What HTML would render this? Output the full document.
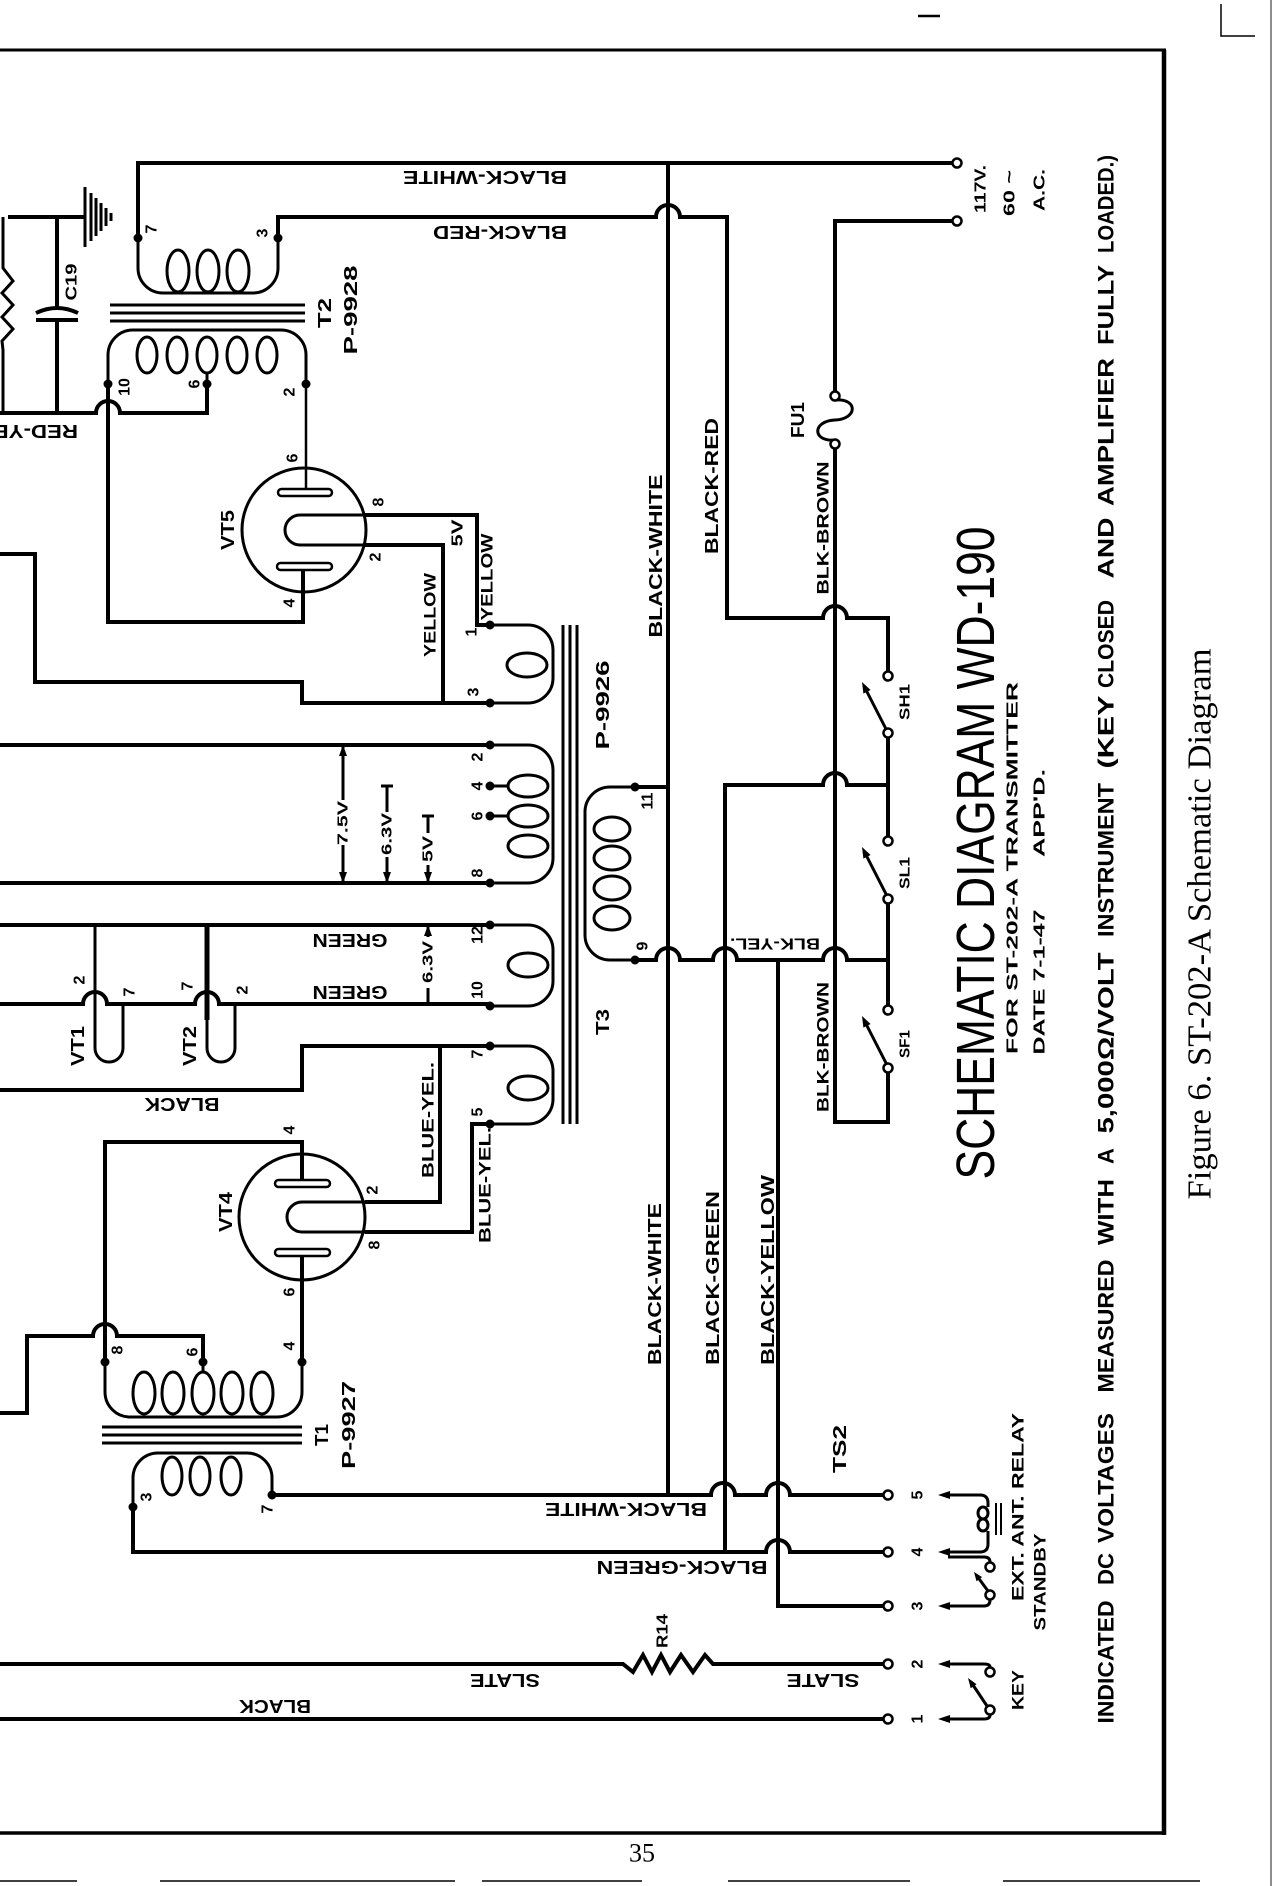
<!DOCTYPE html>
<html><head><meta charset="utf-8"><style>
html,body{margin:0;padding:0;background:#fff;}
svg{display:block}
text{font-family:"Liberation Sans",sans-serif;font-weight:bold;text-anchor:middle;dominant-baseline:central;fill:#000}
.w{fill:none;stroke:#000;stroke-width:4}
.t{fill:none;stroke:#000;stroke-width:3}
.o{fill:#fff;stroke:#000;stroke-width:2.5}
</style></head><body>
<svg width="1273" height="1886" viewBox="0 0 1273 1886" xmlns="http://www.w3.org/2000/svg">
<!-- frame -->
<path d="M0,50 H1166" stroke="#000" stroke-width="3" fill="none"/>
<path d="M1164,50 V1835" stroke="#000" stroke-width="4.5" fill="none"/>
<path d="M0,1833 H1166" stroke="#000" stroke-width="3.5" fill="none"/>
<path d="M1271,0 V1886" stroke="#444" stroke-width="1.2" fill="none"/>
<path d="M1221,4 V36 H1255" stroke="#000" stroke-width="1.5" fill="none"/>
<path d="M918,16 H940" stroke="#000" stroke-width="2.5" fill="none"/>
<path d="M0,1881 H77 M160,1881 H455 M482,1881 H642 M728,1881 H910 M1003,1881 H1200" stroke="#000" stroke-width="1.5" fill="none"/>

<!-- wires -->
<path class="w" d="M138,238 V163 H952"/>
<path class="w" d="M278,238 V217 H656 A12,12 0 0 1 680,217 H727 V618 H823 A12,12 0 0 1 847,618 H888 V671.5"/>
<path class="w" d="M668,163 V1495"/>
<path class="w" d="M635,787 H668"/>
<path class="w" d="M635,960 H656 A12,12 0 0 1 680,960 H713 A12,12 0 0 1 737,960 H823 A12,12 0 0 1 847,960 H888"/>
<path class="w" d="M888,903.5 V1005.5"/>
<path class="w" d="M725,1552 V785 H823 A12,12 0 0 1 847,785 H888"/>
<path class="w" d="M888,737.5 V836.5"/>
<path class="w" d="M952,221 H835 V391.5"/>
<path class="w" d="M835,448.5 V1122 H888 V1072.5"/>
<path class="t" d="M835,400 C858,398 858,419 835,420 C812,421 812,442 835,440"/>
<!-- ground -->
<path class="w" d="M8,217 H85"/>
<path d="M85,187 V247 M91,193 V241 M96,198 V236 M101,203 V231 M106,208 V226 M111,213 V221" stroke="#000" stroke-width="3" fill="none"/>
<!-- resistor left -->
<path d="M3,217 V268 L13,281 L2,293 L13,305 L2,317 L13,329 L2,341 L3,350 V413" stroke="#000" stroke-width="3" fill="none"/>
<!-- C19 -->
<path class="w" d="M57,217 V309 M57,320 V413"/>
<path class="w" d="M36,313 Q57,303 78,313 M36,320 H78"/>
<path class="w" d="M0,413 H96 A12,12 0 0 1 120,413 H207 V384"/>
<path class="w" d="M108,384 V622 H303 V570"/>
<path d="M306,384 V489" stroke="#000" stroke-width="2.5" fill="none"/>
<path class="w" d="M365,515 H477 V625 H490"/>
<path class="w" d="M365,545 H443 V703"/>
<path class="w" d="M0,554 H35 V682 H302 V703 H490"/>
<path class="w" d="M0,745 H490 M0,883 H490 M0,925 H490"/>
<path class="w" d="M0,1004 H83 A12,12 0 0 1 107,1004 H195 A12,12 0 0 1 219,1004 H490"/>
<path class="w" d="M0,1090 H302 V1046 H490"/>
<path class="w" d="M105,1362 V1142 H302 V1180"/>
<path class="w" d="M365,1202 H440 V1046"/>
<path class="w" d="M365,1232 H472 V1124 H490"/>
<path class="w" d="M302,1256 V1362"/>
<path class="w" d="M203,1362 V1336 H117 A12,12 0 0 0 93,1336 H27 V1413 H0"/>
<path class="w" d="M272,1495 H711 A12,12 0 0 1 735,1495 H766 A12,12 0 0 1 790,1495 H883.5"/>
<path class="w" d="M133,1507 V1552 H766 A12,12 0 0 1 790,1552 H883.5"/>
<path class="w" d="M778,960 V1606 H883.5"/>
<path class="w" d="M0,1664 H623 L633,1672 L643,1655 L652,1672 L661,1655 L670,1672 L681,1655 L693,1672 L705,1655 L713,1664 H883.5"/>
<path class="w" d="M0,1719 H883.5"/>
<!-- VT1 / VT2 -->
<path class="t" d="M95,925 V1048 A14,14 0 0 0 123,1048 V1004"/>
<path class="t" d="M207,925 V1048 A14,14 0 0 0 235,1048 V1004"/>
<path d="M207,925 V1020" stroke="#000" stroke-width="5" fill="none"/>

<!-- voltage dimension marks -->
<path class="t" d="M343,745 V800 M343,845 V883"/>
<polygon points="343,745 339,756 347,756"/><polygon points="343,883 339,872 347,872"/>
<path class="t" d="M387,786 V812 M387,857 V883 M381,786 H393"/>
<polygon points="387,883 383,872 391,872"/>
<path class="t" d="M428,816 V833 M428,865 V883 M422,816 H434"/>
<polygon points="428,883 424,872 432,872"/>
<path class="t" d="M428,925 V937 M428,988 V1004 M422,1004 H434"/>
<polygon points="428,925 424,936 432,936"/>

<!-- T2 -->
<path class="t" d="M138,238 V268 A25,25 0 0 0 163,293 H253 A25,25 0 0 0 278,268 V238"/>
<ellipse class="t" cx="178" cy="271" rx="11" ry="21"/>
<ellipse class="t" cx="208" cy="271" rx="11" ry="21"/>
<ellipse class="t" cx="238" cy="271" rx="11" ry="21"/>
<path d="M110,305 H305 M110,313 H305 M110,321 H305" stroke="#000" stroke-width="3" fill="none"/>
<path class="t" d="M108,384 V355 A25,25 0 0 1 133,330 H281 A25,25 0 0 1 306,355 V384 M207,373 V384"/>
<ellipse class="t" cx="147" cy="355" rx="10" ry="18"/>
<ellipse class="t" cx="177" cy="355" rx="10" ry="18"/>
<ellipse class="t" cx="207" cy="355" rx="10" ry="18"/>
<ellipse class="t" cx="237" cy="355" rx="10" ry="18"/>
<ellipse class="t" cx="267" cy="355" rx="10" ry="18"/>

<!-- VT5 -->
<circle class="t" cx="304" cy="530" r="62" fill="none"/>
<rect x="278" y="489" width="54" height="7" rx="3.5" fill="#fff" stroke="#000" stroke-width="2.5"/>
<rect x="277" y="563" width="55" height="7" rx="3.5" fill="#fff" stroke="#000" stroke-width="2.5"/>
<path class="t" d="M365,515 H300 A15,15 0 0 0 300,545 H365"/>

<!-- T3 -->
<path class="t" d="M490,625 H528 A25,25 0 0 1 553,650 V678 A25,25 0 0 1 528,703 H490"/>
<ellipse class="t" cx="527" cy="665" rx="20" ry="12"/>
<path class="t" d="M490,745 H528 A25,25 0 0 1 553,770 V858 A25,25 0 0 1 528,883 H490 M490,786 H508 M490,816 H508"/>
<ellipse class="t" cx="528" cy="786" rx="20" ry="11"/>
<ellipse class="t" cx="528" cy="816" rx="20" ry="11"/>
<ellipse class="t" cx="528" cy="846" rx="20" ry="11"/>
<path class="t" d="M490,925 H528 A25,25 0 0 1 553,950 V981 A25,25 0 0 1 528,1006 H490"/>
<ellipse class="t" cx="528" cy="965" rx="20" ry="12"/>
<path class="t" d="M490,1046 H528 A25,25 0 0 1 553,1071 V1099 A25,25 0 0 1 528,1124 H490"/>
<ellipse class="t" cx="528" cy="1088" rx="20" ry="12"/>
<path d="M563,625 V1124 M570,625 V1124 M577,625 V1124" stroke="#000" stroke-width="3" fill="none"/>
<path class="t" d="M635,787 H610 A25,25 0 0 0 585,812 V935 A25,25 0 0 0 610,960 H635"/>
<ellipse class="t" cx="612" cy="829" rx="18" ry="12"/>
<ellipse class="t" cx="612" cy="858" rx="18" ry="12"/>
<ellipse class="t" cx="612" cy="888" rx="18" ry="12"/>
<ellipse class="t" cx="612" cy="918" rx="18" ry="12"/>

<!-- VT4 -->
<circle class="t" cx="302" cy="1217" r="63" fill="none"/>
<rect x="275" y="1180" width="55" height="7" rx="3.5" fill="#fff" stroke="#000" stroke-width="2.5"/>
<rect x="275" y="1249" width="55" height="7" rx="3.5" fill="#fff" stroke="#000" stroke-width="2.5"/>
<path class="t" d="M365,1202 H302 A15,15 0 0 0 302,1232 H365"/>

<!-- T1 -->
<path class="t" d="M105,1362 V1392 A25,25 0 0 0 130,1417 H277 A25,25 0 0 0 302,1392 V1362 M203,1362 V1372"/>
<ellipse class="t" cx="144" cy="1393" rx="11" ry="21"/>
<ellipse class="t" cx="173" cy="1393" rx="11" ry="21"/>
<ellipse class="t" cx="203" cy="1393" rx="11" ry="21"/>
<ellipse class="t" cx="232" cy="1393" rx="11" ry="21"/>
<ellipse class="t" cx="262" cy="1393" rx="11" ry="21"/>
<path d="M102,1427 H302 M102,1435 H302 M102,1443 H302" stroke="#000" stroke-width="3" fill="none"/>
<path class="t" d="M133,1507 V1478 A25,25 0 0 1 158,1453 H247 A25,25 0 0 1 272,1478 V1495"/>
<ellipse class="t" cx="172" cy="1476" rx="10" ry="19"/>
<ellipse class="t" cx="200" cy="1476" rx="10" ry="19"/>
<ellipse class="t" cx="231" cy="1476" rx="10" ry="19"/>

<!-- junction dots -->
<g fill="#000">
<circle cx="138" cy="238" r="4.5"/><circle cx="278" cy="238" r="4.5"/><circle cx="108" cy="384" r="4.5"/><circle cx="207" cy="384" r="4.5"/><circle cx="306" cy="384" r="4.5"/>
<circle cx="490" cy="625" r="4.5"/><circle cx="490" cy="703" r="4.5"/><circle cx="490" cy="745" r="4.5"/><circle cx="490" cy="786" r="4.5"/><circle cx="490" cy="816" r="4.5"/><circle cx="490" cy="883" r="4.5"/><circle cx="490" cy="925" r="4.5"/><circle cx="490" cy="1006" r="4.5"/><circle cx="490" cy="1046" r="4.5"/><circle cx="490" cy="1124" r="4.5"/>
<circle cx="635" cy="787" r="4.5"/><circle cx="635" cy="960" r="4.5"/>
<circle cx="105" cy="1362" r="4.5"/><circle cx="203" cy="1362" r="4.5"/><circle cx="302" cy="1362" r="4.5"/><circle cx="133" cy="1507" r="4.5"/><circle cx="272" cy="1495" r="4.5"/>
</g>

<!-- switches SH1 SL1 SF1 -->
<path class="t" d="M886,729 L864,686 M886,894 L864,851 M886,1063 L864,1020"/>
<polygon points="862,682 870.6,690 863.4,693.6"/>
<polygon points="862,847 870.6,855 863.4,858.6"/>
<polygon points="862,1016 870.6,1024 863.4,1027.6"/>

<!-- terminal strip / relay / key -->
<g fill="#000">
<polygon points="938,1495 950,1491 950,1499"/>
<polygon points="938,1552 950,1548 950,1556"/>
<polygon points="938,1606 950,1602 950,1610"/>
<polygon points="938,1664 950,1660 950,1668"/>
<polygon points="938,1719 950,1715 950,1723"/>
<polygon points="974,1572 982.1,1577.1 976.5,1581.3"/>
<polygon points="968,1678 976.5,1684.3 970.7,1688.3"/>
</g>
<path class="t" d="M948,1495 H980 Q988,1495 988,1503 V1507 M988,1531 V1544 Q988,1552 980,1552 H948"/>
<ellipse class="t" cx="983" cy="1513" rx="5" ry="6"/>
<ellipse class="t" cx="983" cy="1525" rx="5" ry="6"/>
<path d="M996,1503 V1535 M1001,1503 V1535" stroke="#000" stroke-width="2" fill="none"/>
<path class="t" d="M948,1557 H984 Q990,1557 990,1562"/>
<path class="t" d="M988,1591 L977,1576"/>
<path class="t" d="M948,1606 H984 Q990,1606 990,1600"/>
<path class="t" d="M948,1664 H984 Q990,1664 990,1667"/>
<path class="t" d="M987,1706 L971,1682"/>
<path class="t" d="M948,1719 H984 Q990,1719 990,1715"/>

<!-- open circles -->
<g class="o">
<circle cx="835" cy="396" r="4.5"/><circle cx="835" cy="444" r="4.5"/>
<circle cx="888" cy="676" r="4.5"/><circle cx="888" cy="733" r="4.5"/>
<circle cx="888" cy="841" r="4.5"/><circle cx="888" cy="899" r="4.5"/>
<circle cx="888" cy="1010" r="4.5"/><circle cx="888" cy="1068" r="4.5"/>
<circle cx="888" cy="1495" r="4.5"/><circle cx="888" cy="1552" r="4.5"/><circle cx="888" cy="1606" r="4.5"/><circle cx="888" cy="1664" r="4.5"/><circle cx="888" cy="1719" r="4.5"/>
<circle cx="957" cy="163" r="4.5"/><circle cx="957" cy="221" r="4.5"/>
<circle cx="990" cy="1567" r="4.5"/><circle cx="990" cy="1595" r="4.5"/>
<circle cx="990" cy="1672" r="4.5"/><circle cx="990" cy="1710" r="4.5"/>
</g>

<!-- upside-down wire labels -->
<g font-size="18">
<text transform="translate(485,177) rotate(180)" textLength="164" lengthAdjust="spacingAndGlyphs">BLACK-WHITE</text>
<text transform="translate(500,232) rotate(180)" textLength="134" lengthAdjust="spacingAndGlyphs">BLACK-RED</text>
<text transform="translate(78,431) rotate(180)" style="text-anchor:start" textLength="104" lengthAdjust="spacingAndGlyphs">RED-YEL.</text>
<text transform="translate(182,1104) rotate(180)" textLength="75" lengthAdjust="spacingAndGlyphs">BLACK</text>
<text transform="translate(350,940) rotate(180)" textLength="75" lengthAdjust="spacingAndGlyphs">GREEN</text>
<text transform="translate(350,992) rotate(180)" textLength="75" lengthAdjust="spacingAndGlyphs">GREEN</text>
<text transform="translate(775,943) rotate(180)" font-size="16" textLength="90" lengthAdjust="spacingAndGlyphs">BLK-YEL.</text>
<text transform="translate(626,1509) rotate(180)" textLength="162" lengthAdjust="spacingAndGlyphs">BLACK-WHITE</text>
<text transform="translate(682,1567) rotate(180)" textLength="171" lengthAdjust="spacingAndGlyphs">BLACK-GREEN</text>
<text transform="translate(505,1680) rotate(180)" textLength="70" lengthAdjust="spacingAndGlyphs">SLATE</text>
<text transform="translate(823,1680) rotate(180)" textLength="73" lengthAdjust="spacingAndGlyphs">SLATE</text>
<text transform="translate(275,1706) rotate(180)" textLength="72" lengthAdjust="spacingAndGlyphs">BLACK</text>
</g>

<!-- vertical labels -->
<g font-size="18">
<text transform="translate(325,313) rotate(-90)" textLength="30" lengthAdjust="spacingAndGlyphs">T2</text>
<text transform="translate(351,310) rotate(-90)" textLength="89" lengthAdjust="spacingAndGlyphs">P-9928</text>
<text transform="translate(72,282) rotate(-90)" font-size="16" textLength="37" lengthAdjust="spacingAndGlyphs">C19</text>
<text transform="translate(228,530) rotate(-90)" textLength="40" lengthAdjust="spacingAndGlyphs">VT5</text>
<text transform="translate(798,420) rotate(-90)" textLength="36" lengthAdjust="spacingAndGlyphs">FU1</text>
<text transform="translate(823,528) rotate(-90)" font-size="17" textLength="133" lengthAdjust="spacingAndGlyphs">BLK-BROWN</text>
<text transform="translate(712,486) rotate(-90)" textLength="136" lengthAdjust="spacingAndGlyphs">BLACK-RED</text>
<text transform="translate(656,556) rotate(-90)" textLength="163" lengthAdjust="spacingAndGlyphs">BLACK-WHITE</text>
<text transform="translate(458,533) rotate(-90)" font-size="16" textLength="27" lengthAdjust="spacingAndGlyphs">5V</text>
<text transform="translate(487,577) rotate(-90)" font-size="17" textLength="87" lengthAdjust="spacingAndGlyphs">YELLOW</text>
<text transform="translate(430,615) rotate(-90)" font-size="17" textLength="84" lengthAdjust="spacingAndGlyphs">YELLOW</text>
<text transform="translate(603,705) rotate(-90)" textLength="89" lengthAdjust="spacingAndGlyphs">P-9926</text>
<text transform="translate(603,1022) rotate(-90)" textLength="26" lengthAdjust="spacingAndGlyphs">T3</text>
<text transform="translate(343,823) rotate(-90)" font-size="15" textLength="44" lengthAdjust="spacingAndGlyphs">7.5V</text>
<text transform="translate(387,834) rotate(-90)" font-size="15" textLength="42" lengthAdjust="spacingAndGlyphs">6.3V</text>
<text transform="translate(428,849) rotate(-90)" font-size="15" textLength="26" lengthAdjust="spacingAndGlyphs">5V</text>
<text transform="translate(428,962) rotate(-90)" font-size="15" textLength="42" lengthAdjust="spacingAndGlyphs">6.3V</text>
<text transform="translate(78,1046) rotate(-90)" textLength="40" lengthAdjust="spacingAndGlyphs">VT1</text>
<text transform="translate(190,1046) rotate(-90)" textLength="40" lengthAdjust="spacingAndGlyphs">VT2</text>
<text transform="translate(226,1212) rotate(-90)" textLength="40" lengthAdjust="spacingAndGlyphs">VT4</text>
<text transform="translate(428,1120) rotate(-90)" font-size="17" textLength="116" lengthAdjust="spacingAndGlyphs">BLUE-YEL.</text>
<text transform="translate(485,1185) rotate(-90)" font-size="17" textLength="116" lengthAdjust="spacingAndGlyphs">BLUE-YEL.</text>
<text transform="translate(322,1435) rotate(-90)" textLength="22" lengthAdjust="spacingAndGlyphs">T1</text>
<text transform="translate(349,1425) rotate(-90)" textLength="88" lengthAdjust="spacingAndGlyphs">P-9927</text>
<text transform="translate(655,1284) rotate(-90)" textLength="162" lengthAdjust="spacingAndGlyphs">BLACK-WHITE</text>
<text transform="translate(713,1278) rotate(-90)" textLength="174" lengthAdjust="spacingAndGlyphs">BLACK-GREEN</text>
<text transform="translate(768,1270) rotate(-90)" textLength="190" lengthAdjust="spacingAndGlyphs">BLACK-YELLOW</text>
<text transform="translate(823,1047) rotate(-90)" font-size="17" textLength="130" lengthAdjust="spacingAndGlyphs">BLK-BROWN</text>
<text transform="translate(840,1449) rotate(-90)" textLength="48" lengthAdjust="spacingAndGlyphs">TS2</text>
<text transform="translate(663,1631) rotate(-90)" font-size="16" textLength="34" lengthAdjust="spacingAndGlyphs">R14</text>
<text transform="translate(905,702) rotate(-90)" font-size="15" textLength="36" lengthAdjust="spacingAndGlyphs">SH1</text>
<text transform="translate(905,873) rotate(-90)" font-size="15" textLength="32" lengthAdjust="spacingAndGlyphs">SL1</text>
<text transform="translate(905,1044) rotate(-90)" font-size="15" textLength="28" lengthAdjust="spacingAndGlyphs">SF1</text>
<text transform="translate(1018,1690) rotate(-90)" font-size="17" textLength="40" lengthAdjust="spacingAndGlyphs">KEY</text>
<text transform="translate(1018,1507) rotate(-90)" font-size="17" textLength="188" lengthAdjust="spacingAndGlyphs">EXT. ANT. RELAY</text>
<text transform="translate(1040,1582) rotate(-90)" font-size="17" textLength="97" lengthAdjust="spacingAndGlyphs">STANDBY</text>
<text transform="translate(981,189) rotate(-90)" font-size="16" textLength="48" lengthAdjust="spacingAndGlyphs">117V.</text>
<text transform="translate(1010,193) rotate(-90)" font-size="16" textLength="46" lengthAdjust="spacingAndGlyphs">60 ~</text>
<text transform="translate(1040,190) rotate(-90)" font-size="16" textLength="42" lengthAdjust="spacingAndGlyphs">A.C.</text>
</g>

<!-- pin numbers -->
<g font-size="16">
<text transform="translate(152,229) rotate(-90)">7</text>
<text transform="translate(263,233) rotate(-90)">3</text>
<text transform="translate(125,387) rotate(-90)">10</text>
<text transform="translate(195,384) rotate(-90)">6</text>
<text transform="translate(290,392) rotate(-90)">2</text>
<text transform="translate(293,458) rotate(-90)">6</text>
<text transform="translate(379,502) rotate(-90)">8</text>
<text transform="translate(376,557) rotate(-90)">2</text>
<text transform="translate(290,603) rotate(-90)">4</text>
<text transform="translate(472,632) rotate(-90)">1</text>
<text transform="translate(474,692) rotate(-90)">3</text>
<text transform="translate(478,757) rotate(-90)">2</text>
<text transform="translate(478,786) rotate(-90)">4</text>
<text transform="translate(478,816) rotate(-90)">6</text>
<text transform="translate(478,873) rotate(-90)">8</text>
<text transform="translate(478,935) rotate(-90)">12</text>
<text transform="translate(478,990) rotate(-90)">10</text>
<text transform="translate(478,1054) rotate(-90)">7</text>
<text transform="translate(478,1112) rotate(-90)">5</text>
<text transform="translate(648,801) rotate(-90)">11</text>
<text transform="translate(643,946) rotate(-90)">9</text>
<text transform="translate(80,980) rotate(-90)">2</text>
<text transform="translate(130,992) rotate(-90)">7</text>
<text transform="translate(188,986) rotate(-90)">7</text>
<text transform="translate(243,990) rotate(-90)">2</text>
<text transform="translate(290,1130) rotate(-90)">4</text>
<text transform="translate(373,1190) rotate(-90)">2</text>
<text transform="translate(375,1245) rotate(-90)">8</text>
<text transform="translate(290,1292) rotate(-90)">6</text>
<text transform="translate(290,1346) rotate(-90)">4</text>
<text transform="translate(118,1350) rotate(-90)">8</text>
<text transform="translate(193,1352) rotate(-90)">6</text>
<text transform="translate(147,1497) rotate(-90)">3</text>
<text transform="translate(268,1509) rotate(-90)">7</text>
<text transform="translate(918,1495) rotate(-90)" font-size="16">5</text>
<text transform="translate(918,1552) rotate(-90)" font-size="16">4</text>
<text transform="translate(918,1606) rotate(-90)" font-size="16">3</text>
<text transform="translate(918,1664) rotate(-90)" font-size="16">2</text>
<text transform="translate(918,1719) rotate(-90)" font-size="16">1</text>
</g>

<!-- title block -->
<text transform="translate(976,853) rotate(-90)" font-size="54" style="font-weight:normal" textLength="653" lengthAdjust="spacingAndGlyphs">SCHEMATIC DIAGRAM WD-190</text>
<text transform="translate(1013,868) rotate(-90)" font-size="16" textLength="372" lengthAdjust="spacingAndGlyphs">FOR ST-202-A TRANSMITTER</text>
<text transform="translate(1040,982) rotate(-90)" font-size="16" textLength="145" lengthAdjust="spacingAndGlyphs">DATE 7-1-47</text>
<text transform="translate(1040,813) rotate(-90)" font-size="16" textLength="88" lengthAdjust="spacingAndGlyphs">APP'D.</text>

<g font-size="22">
<text transform="translate(1106,1662) rotate(-90)" textLength="123" lengthAdjust="spacingAndGlyphs">INDICATED</text>
<text transform="translate(1106,1569) rotate(-90)" textLength="32" lengthAdjust="spacingAndGlyphs">DC</text>
<text transform="translate(1106,1478) rotate(-90)" textLength="130" lengthAdjust="spacingAndGlyphs">VOLTAGES</text>
<text transform="translate(1106,1326) rotate(-90)" textLength="133" lengthAdjust="spacingAndGlyphs">MEASURED</text>
<text transform="translate(1106,1212) rotate(-90)" textLength="66" lengthAdjust="spacingAndGlyphs">WITH</text>
<text transform="translate(1106,1156) rotate(-90)">A</text>
<text transform="translate(1106,1043) rotate(-90)" textLength="181" lengthAdjust="spacingAndGlyphs">5,000Ω/VOLT</text>
<text transform="translate(1106,860) rotate(-90)" textLength="154" lengthAdjust="spacingAndGlyphs">INSTRUMENT</text>
<text transform="translate(1106,732) rotate(-90)" textLength="73" lengthAdjust="spacingAndGlyphs">(KEY</text>
<text transform="translate(1106,644) rotate(-90)" textLength="88" lengthAdjust="spacingAndGlyphs">CLOSED</text>
<text transform="translate(1106,548) rotate(-90)" textLength="61" lengthAdjust="spacingAndGlyphs">AND</text>
<text transform="translate(1106,432) rotate(-90)" textLength="148" lengthAdjust="spacingAndGlyphs">AMPLIFIER</text>
<text transform="translate(1106,305) rotate(-90)" textLength="80" lengthAdjust="spacingAndGlyphs">FULLY</text>
<text transform="translate(1106,204) rotate(-90)" textLength="98" lengthAdjust="spacingAndGlyphs">LOADED.)</text>
</g>

<text transform="translate(1200,924) rotate(-90)" style="font-family:'Liberation Serif',serif;font-weight:normal" font-size="34" textLength="551" lengthAdjust="spacingAndGlyphs">Figure 6. ST-202-A Schematic Diagram</text>
<text x="642" y="1853" style="font-family:'Liberation Serif',serif;font-weight:normal" font-size="26">35</text>
</svg>
</body></html>
